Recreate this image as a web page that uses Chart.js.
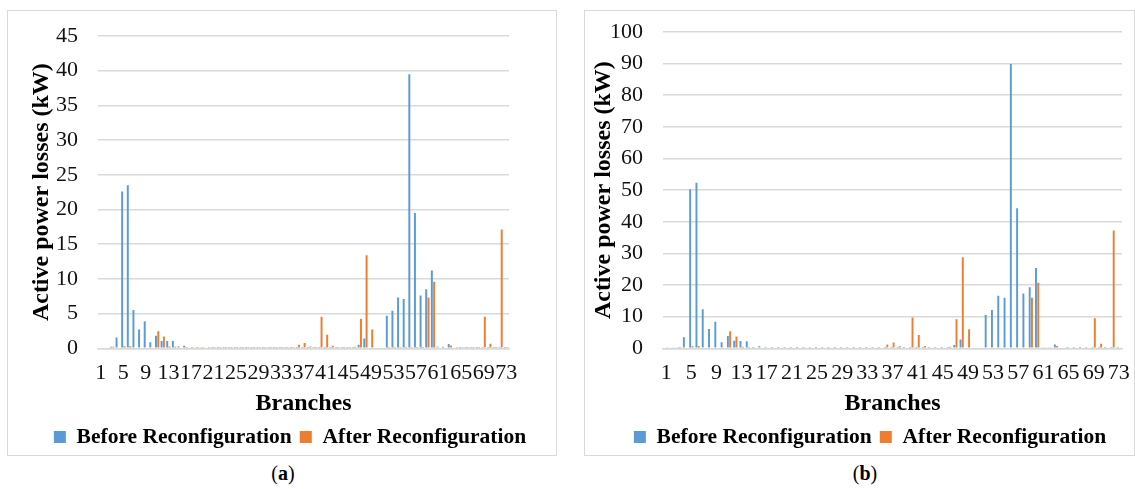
<!DOCTYPE html>
<html>
<head>
<meta charset="utf-8">
<script src="https://cdn.jsdelivr.net/npm/chart.js@4/dist/chart.umd.min.js"></script>
<style>
  body { margin: 0; background: #fff; width: 1135px; height: 489px; position: relative; overflow: hidden; }
  .box { position: absolute; top: 10px; height: 446px; border: 1px solid #d9d9d9; box-sizing: border-box; }
  .box canvas { display: block; }
  .cap { position: absolute; top: 462px; font: 20px "Liberation Serif", serif; color: #000; transform: translateX(-50%); }
</style>
</head>
<body>
<div class="box" style="left:7px; width:550px;"><canvas id="chartA" width="548" height="444"></canvas></div>
<div class="box" style="left:584px; width:551px;"><canvas id="chartB" width="549" height="444"></canvas></div>
<div class="cap" style="left:283px;">(<b>a</b>)</div>
<div class="cap" style="left:865px;">(<b>b</b>)</div>
<script>
// branch numbers on the x axis
const branches = [
  1, 2, 3, 4, 5, 6, 7, 8, 9, 10, 11, 12, 13, 14, 15, 16, 17, 18, 19, 20,
  21, 22, 23, 24, 25, 26, 27, 28, 29, 30, 31, 32, 33, 34, 35, 36, 37, 38, 39, 40,
  41, 42, 43, 44, 45, 46, 47, 48, 49, 50, 51, 52, 53, 54, 55, 56, 57, 58, 59, 60,
  61, 62, 63, 64, 65, 66, 67, 68, 69, 70, 71, 72, 73
];

// (a) losses in kW
const beforeA = [
  0.1, 0.1, 0.2, 1.55, 22.6, 23.5, 5.5, 2.7, 3.9, 0.87,
  1.8, 1.06, 1.06, 1.06, 0.25, 0.35, 0.1, 0.15, 0.15, 0.1,
  0.05, 0.05, 0.05, 0.05, 0.05, 0.05, 0.05, 0.05, 0.05, 0.05,
  0.05, 0.05, 0.05, 0.05, 0.05, 0.05, 0.05, 0.05, 0.05, 0.05,
  0.05, 0.05, 0.05, 0.05, 0.05, 0.05, 0.5, 1.4, 0.1, 0,
  0, 4.7, 5.4, 7.3, 7.1, 39.5, 19.5, 7.6, 8.5, 11.2,
  0.2, 0.2, 0.6, 0.1, 0.05, 0.05, 0.05, 0.05, 0.05, 0.05,
  0.05, 0.05, 0.05
];
const afterA = [
  0.1, 0.1, 0.2, 0.1, 0.3, 0.3, 0.1, 0.1, 0.1, 0.1,
  2.45, 1.7, 0.25, 0.2, 0.1, 0.05, 0.05, 0.05, 0.05, 0.05,
  0.05, 0.05, 0.05, 0.05, 0.05, 0.05, 0.05, 0.05, 0.05, 0.05,
  0.05, 0.05, 0.05, 0.05, 0.05, 0.5, 0.77, 0.25, 0.05, 4.55,
  1.95, 0.35, 0.05, 0.05, 0.05, 0.2, 4.2, 13.4, 2.7, 0,
  0, 0.05, 0.05, 0.05, 0.05, 0.05, 0.05, 0.05, 7.3, 9.6,
  0.1, 0.1, 0.4, 0.05, 0.05, 0.05, 0.05, 0.05, 4.55, 0.65,
  0.05, 17.1, 0.05
];

// (b) losses in kW
const beforeB = [
  0.2, 0.2, 0.3, 3.5, 50.3, 52.3, 12.3, 6.1, 8.4, 1.9,
  3.9, 2.4, 2.3, 2.2, 0.4, 0.6, 0.1, 0.1, 0.1, 0.1,
  0.1, 0.1, 0.1, 0.1, 0.1, 0.1, 0.1, 0.1, 0.1, 0.1,
  0.1, 0.1, 0.1, 0.1, 0.1, 0.1, 0.1, 0.1, 0.1, 0.1,
  0.1, 0.1, 0.1, 0.1, 0.1, 0.1, 1.0, 2.8, 0.2, 0,
  0, 10.5, 12.1, 16.6, 16.0, 89.9, 44.3, 17.3, 19.3, 25.4,
  0.3, 0.3, 1.2, 0.2, 0.1, 0.1, 0.1, 0.1, 0.1, 0.1,
  0.1, 0.1, 0.1
];
const afterB = [
  0.3, 0.3, 0.4, 0.2, 0.6, 0.7, 0.2, 0.2, 0.2, 0.2,
  5.4, 3.7, 0.5, 0.4, 0.2, 0.2, 0.2, 0.2, 0.2, 0.2,
  0.2, 0.2, 0.2, 0.2, 0.2, 0.2, 0.2, 0.2, 0.2, 0.2,
  0.2, 0.2, 0.2, 0.2, 0.2, 1.2, 1.8, 0.6, 0.2, 9.7,
  4.2, 0.7, 0.2, 0.2, 0.2, 0.5, 9.2, 28.8, 6.0, 0,
  0, 0.2, 0.2, 0.2, 0.2, 0.2, 0.2, 0.2, 16.0, 20.7,
  0.3, 0.3, 0.7, 0.2, 0.2, 0.2, 0.2, 0.2, 9.5, 1.4,
  0.2, 37.2, 0.2
];

const yMaxA = 45, yStepA = 5;
const yMaxB = 100, yStepB = 10;

const SERIF = '"Liberation Serif", "Times New Roman", serif';
const BLUE = '#5b9bd5';
const ORANGE = '#ed7d31';

function makeChart(id, before, after, yMax, yStep, cfg) {
  const ctx = document.getElementById(id).getContext('2d');
  return new Chart(ctx, {
    type: 'bar',
    data: {
      labels: branches,
      datasets: [
        { label: 'Before Reconfiguration', data: before, backgroundColor: BLUE,
          categoryPercentage: cfg.catPct, barPercentage: 0.85 },
        { label: 'After Reconfiguration', data: after, backgroundColor: ORANGE,
          categoryPercentage: cfg.catPct, barPercentage: 0.85 }
      ]
    },
    options: {
      responsive: false, animation: false,
      layout: { padding: { top: cfg.top, right: 0, left: cfg.left, bottom: -2.75 } },
      plugins: {
        tooltip: { enabled: false },
        legend: {
          position: 'bottom',
          labels: { color: '#000', boxWidth: 12, boxHeight: 12, padding: 8,
                    font: { family: SERIF, size: 21.5, weight: 'bold', lineHeight: 1 } }
        }
      },
      scales: {
        x: {
          afterFit: (s) => { s.height = 70; },
          grid: { display: false, drawTicks: false },
          border: { display: true, color: '#d9d9d9', width: 1.5 },
          ticks: {
            // tall line height puts the label centre 25px under the axis
            autoSkip: false, maxRotation: 0, padding: 0, color: '#111',
            font: { family: SERIF, size: 22, lineHeight: 2.27 },
            callback: (v, i) => (i % 4 === 0 ? branches[i] : '')
          },
          title: { display: true, text: 'Branches', color: '#000', padding: { top: 0, bottom: 0 },
                   font: { family: SERIF, size: 24, weight: 'bold' } }
        },
        y: {
          min: 0, max: yMax,
          afterFit: (s) => { s.width = cfg.yWidth; },
          grid: { color: '#d9d9d9', lineWidth: 1.5, drawTicks: false },
          border: { display: false },
          ticks: { stepSize: yStep, padding: 20, color: '#111',
                   font: { family: SERIF, size: 22, lineHeight: 0.05 } },
          title: { display: true, text: 'Active power losses (kW)', color: '#000',
                   padding: { top: cfg.titlePad, bottom: 0 },
                   font: { family: SERIF, size: 24, weight: 'bold' } }
        },
        // empty spacer on the right so the plot ends where the reference does
        yRight: {
          position: 'right',
          afterFit: (s) => { s.width = cfg.right; },
          grid: { display: false },
          border: { display: false },
          ticks: { display: false }
        }
      }
    }
  });
}

makeChart('chartA', beforeA, afterA, yMaxA, yStepA,
  { top: 25, left: 16, right: 47, yWidth: 74, titlePad: 3.6, catPct: 0.82 });
makeChart('chartB', beforeB, afterB, yMaxB, yStepB,
  { top: 21, left: 21, right: 12, yWidth: 57, titlePad: -16.4, catPct: 0.72 });
</script>
</body>
</html>
